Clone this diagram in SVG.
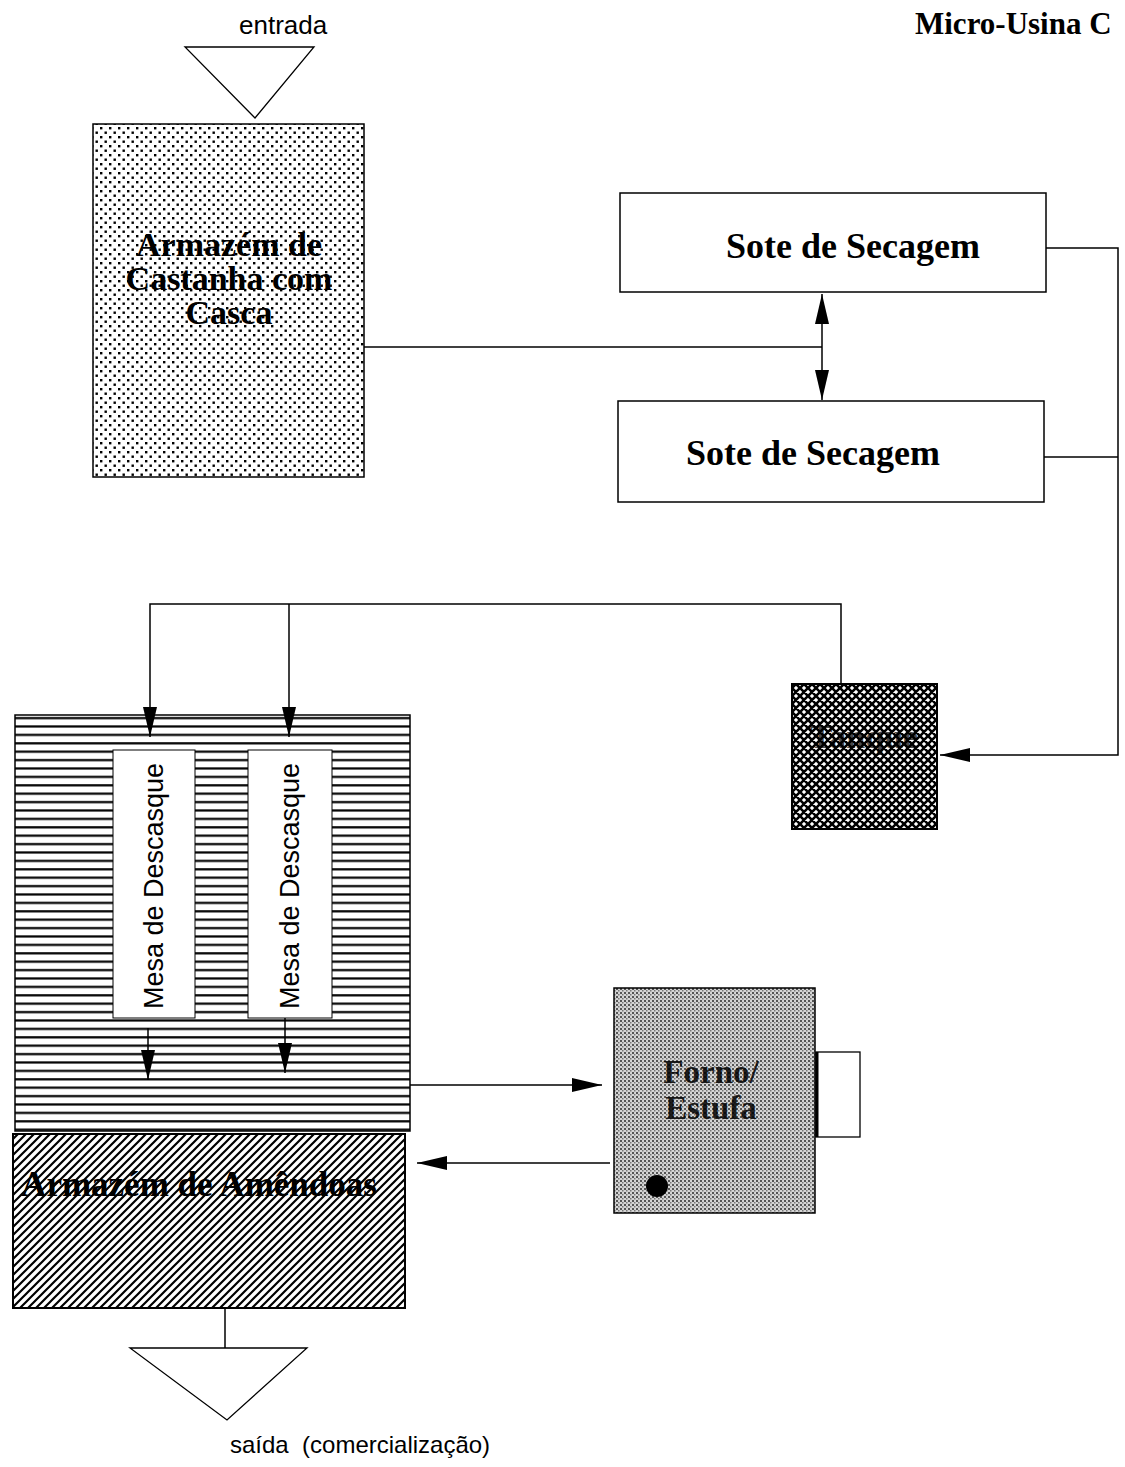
<svg xmlns="http://www.w3.org/2000/svg" width="1125" height="1467" viewBox="0 0 1125 1467">
<style>
.ln{stroke:#000;stroke-width:1.5;fill:none}
.bx{stroke:#000;stroke-width:1.5}
.serif{font-family:"Liberation Serif","Times New Roman",serif;font-weight:bold;fill:#000}
.sans{font-family:"Liberation Sans",Arial,sans-serif;fill:#000}
</style>
<defs>
<pattern id="dots" width="9" height="9" patternUnits="userSpaceOnUse">
<rect width="9" height="9" fill="#fff"/>
<rect x="1" y="1" width="2.4" height="2.4" fill="#000"/>
<rect x="5.5" y="5.5" width="2.4" height="2.4" fill="#000"/>
</pattern>
<pattern id="fine" width="4" height="4" patternUnits="userSpaceOnUse">
<rect width="4" height="4" fill="#d4d4d4"/>
<rect x="0" y="0" width="2" height="2" fill="#555"/>
<rect x="2" y="2" width="1.5" height="1.5" fill="#777"/>
</pattern>
<pattern id="cross" width="8" height="8" patternUnits="userSpaceOnUse">
<rect width="8" height="8" fill="#fff"/>
<path d="M0 0L8 8M8 0L0 8M-4 4L4 12M4 -4L12 4M4 12L12 4M-4 4L4 -4" stroke="#000" stroke-width="2.6"/>
</pattern>
<pattern id="hlines" width="8" height="8.4" patternUnits="userSpaceOnUse">
<rect width="8" height="8.4" fill="#fff"/>
<rect y="3" width="8" height="2.2" fill="#000"/>
</pattern>
<pattern id="diag" width="8" height="8" patternUnits="userSpaceOnUse">
<rect width="8" height="8" fill="#fff"/>
<path d="M-1 9L9 -1M-4 4L4 -4M4 12L12 4" stroke="#000" stroke-width="2.2"/>
</pattern>
<marker id="big" viewBox="0 0 30 14" refX="30" refY="7" markerWidth="30" markerHeight="14" markerUnits="userSpaceOnUse" orient="auto">
<path d="M0 0L30 7L0 14z" fill="#000"/>
</marker>
</defs>

<text class="serif" x="915" y="34" font-size="31">Micro-Usina C</text>

<g id="entrada">
<text class="sans" x="239" y="34" font-size="26">entrada</text>
<polygon points="185,47 314,47 255,118" fill="none" stroke="#000" stroke-width="1.3"/>
</g>

<g id="armazem-castanha">
<rect x="93" y="124" width="271" height="353" fill="url(#dots)" class="bx"/>
<text class="serif" text-anchor="middle" font-size="34"><tspan x="229" y="256">Armazém de</tspan><tspan x="229" y="290">Castanha com</tspan><tspan x="229" y="324">Casca</tspan></text>
</g>

<g id="sote1">
<rect x="620" y="193" width="426" height="99" fill="#fff" class="bx"/>
<text class="serif" x="853" y="258" font-size="36" text-anchor="middle">Sote de Secagem</text>
</g>
<g id="sote2">
<rect x="618" y="401" width="426" height="101" fill="#fff" class="bx"/>
<text class="serif" x="813" y="465" font-size="36" text-anchor="middle">Sote de Secagem</text>
</g>

<g id="tanque">
<rect x="792" y="684" width="145" height="145" fill="url(#cross)" stroke="#000" stroke-width="2"/>
<text class="serif" x="864" y="748" font-size="34" text-anchor="middle" fill="#000" opacity="0.7">Tanque</text>
</g>

<g id="mesas-area">
<rect x="15" y="715" width="395" height="416" fill="url(#hlines)" class="bx"/>
</g>
<g id="mesa1">
<rect x="113" y="750" width="82" height="268" fill="#fff" stroke="#000" stroke-width="1"/>
<text class="sans" font-size="27" text-anchor="middle" transform="translate(163,886) rotate(-90)">Mesa de Descasque</text>
</g>
<g id="mesa2">
<rect x="248" y="750" width="84" height="268" fill="#fff" stroke="#000" stroke-width="1"/>
<text class="sans" font-size="27" text-anchor="middle" transform="translate(299,886) rotate(-90)">Mesa de Descasque</text>
</g>

<g id="armazem-amendoas">
<rect x="13" y="1134" width="392" height="174" fill="url(#diag)" stroke="#000" stroke-width="2"/>
<text class="serif" x="199" y="1196" font-size="35" text-anchor="middle">Armazém de Amêndoas</text>
</g>

<g id="forno">
<rect x="614" y="988" width="201" height="225" fill="url(#fine)" class="bx"/>
<rect x="816" y="1052" width="44" height="85" fill="#fff" stroke="#000" stroke-width="1.3"/>
<line x1="817" y1="1052" x2="817" y2="1137" stroke="#000" stroke-width="3"/>
<circle cx="657" cy="1186" r="11" fill="#000"/>
<text class="serif" text-anchor="middle" font-size="33" opacity="0.85"><tspan x="711" y="1083">Forno/</tspan><tspan x="711" y="1119">Estufa</tspan></text>
</g>

<g id="saida">
<polygon points="130,1348 307,1348 227,1420" fill="none" stroke="#000" stroke-width="1.3"/>
<text class="sans" x="230" y="1453" font-size="24">saída&#160; (comercialização)</text>
</g>

<g id="connectors">
<path class="ln" d="M364 347H822"/>
<path class="ln" d="M822 347V294" marker-end="url(#big)"/>
<path class="ln" d="M822 347V400" marker-end="url(#big)"/>
<path class="ln" d="M1046 248H1118V755H940" marker-end="url(#big)"/>
<path class="ln" d="M1044 457H1118"/>
<path class="ln" d="M841 684V604H150V737" marker-end="url(#big)"/>
<path class="ln" d="M289 604V737" marker-end="url(#big)"/>
<path class="ln" d="M148 1028V1080" marker-end="url(#big)"/>
<path class="ln" d="M285 1018V1073" marker-end="url(#big)"/>
<path class="ln" d="M410 1085H602" marker-end="url(#big)"/>
<path class="ln" d="M610 1163H417" marker-end="url(#big)"/>
<path class="ln" d="M225 1308V1348"/>
</g>
</svg>
